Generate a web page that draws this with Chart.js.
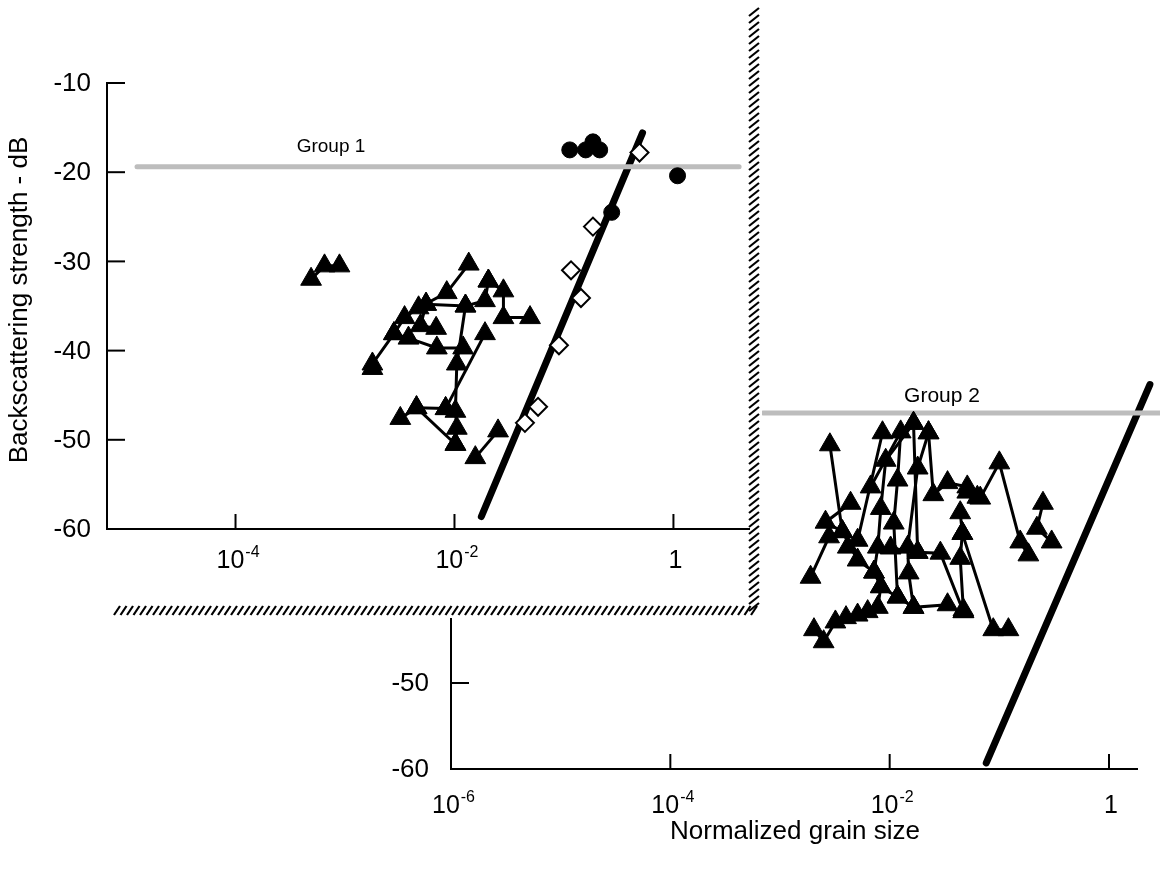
<!DOCTYPE html>
<html>
<head>
    <title>Backscattering strength vs normalized grain size</title>
    <script src="https://cdn.jsdelivr.net/npm/chart.js"></script>
    <style>
        body {
            margin: 0;
            background: #fff;
            font-family: "Liberation Sans", Arial, sans-serif;
        }
        #wrap {
            position: relative;
            width: 1160px;
            height: 876px;
        }
        canvas {
            position: absolute;
            left: 0;
            top: 0;
        }
        #chart1 {
            background: #fff;
        }
    </style>
</head>
<body>
<div id="wrap">
    <canvas id="chart2" width="1160" height="876"></canvas>
    <canvas id="chart1" width="762" height="618"></canvas>
</div>

<script>
    // ---- shared tick values ----
    const yTicks = [-10, -20, -30, -40, -50, -60];
    const xTicks1 = [1e-4, 1e-2, 1];
    const xTicks2 = [1e-6, 1e-4, 1e-2, 1];

    // ---- Group 1 (upper panel) ----
    const g1Level = [{x: 1.26e-5, y: -19.4}, {x: 3.98, y: -19.4}];
    const g1Fit = [{x: 0.0176, y: -58.6}, {x: 0.522, y: -15.6}];
    const g1Circles = [
        {x: 0.113, y: -17.5}, {x: 0.158, y: -17.5}, {x: 0.184, y: -16.6},
        {x: 0.212, y: -17.5}, {x: 1.09, y: -20.4}, {x: 0.273, y: -24.5}
    ];
    const g1Diamonds = [
        {x: 0.49, y: -17.8}, {x: 0.184, y: -26.1}, {x: 0.116, y: -31.0},
        {x: 0.143, y: -34.1}, {x: 0.090, y: -39.4}, {x: 0.058, y: -46.3},
        {x: 0.044, y: -48.1}
    ];
    const g1TriA = [{x: 4.9e-4, y: -32.0}, {x: 6.5e-4, y: -30.5}, {x: 8.9e-4, y: -30.5}];
    const g1TriB = [
        {x: 1.78e-3, y: -42.0}, {x: 1.78e-3, y: -41.5}, {x: 2.8e-3, y: -38.1},
        {x: 3.5e-3, y: -36.3}, {x: 4.7e-3, y: -35.2}, {x: 8.5e-3, y: -33.5},
        {x: 1.35e-2, y: -30.3}
    ];
    const g1TriC = [{x: 2.8e-3, y: -38.1}, {x: 3.8e-3, y: -38.6}, {x: 6.9e-3, y: -39.7}, {x: 1.2e-2, y: -39.7}];
    const g1TriD = [{x: 5.5e-3, y: -34.8}, {x: 4.9e-3, y: -37.2}, {x: 6.8e-3, y: -37.5}];
    const g1TriE = [{x: 5.5e-3, y: -34.8}, {x: 1.26e-2, y: -35.0}, {x: 1.9e-2, y: -34.4}, {x: 2.04e-2, y: -32.2}];
    const g1TriF = [
        {x: 1.26e-2, y: -35.0}, {x: 1.05e-2, y: -41.5}, {x: 1.02e-2, y: -46.8},
        {x: 1.05e-2, y: -48.7}, {x: 1.02e-2, y: -50.5}
    ];
    const g1TriG = [{x: 3.2e-3, y: -47.6}, {x: 4.5e-3, y: -46.4}, {x: 8.3e-3, y: -46.5}];
    const g1TriH = [{x: 4.5e-3, y: -46.4}, {x: 1.02e-2, y: -50.5}];
    const g1TriI = [{x: 1.9e-2, y: -38.1}, {x: 8.3e-3, y: -46.5}];
    const g1TriJ = [{x: 1.55e-2, y: -52.0}, {x: 2.5e-2, y: -49.0}];
    const g1TriK = [{x: 2.04e-2, y: -32.2}, {x: 2.8e-2, y: -33.3}, {x: 2.8e-2, y: -36.3}, {x: 4.9e-2, y: -36.3}];

    // ---- Group 2 (lower panel) ----
    const g2Level = [{x: 7.0e-4, y: -18.6}, {x: 2.9, y: -18.6}];
    const g2Fit = [{x: 0.076, y: -59.3}, {x: 2.36, y: -15.3}];
    const g2TriA = [{x: 1.9e-3, y: -37.7}, {x: 2.8e-3, y: -33.0}, {x: 3.7e-3, y: -32.4}, {x: 2.6e-3, y: -31.3}, {x: 4.4e-3, y: -29.1}];
    const g2TriB = [{x: 2.85e-3, y: -22.3}, {x: 3.7e-3, y: -32.4}, {x: 5.1e-3, y: -35.7}, {x: 7.2e-3, y: -37.1}];
    const g2TriC = [
        {x: 2.04e-3, y: -43.8}, {x: 2.5e-3, y: -45.2}, {x: 3.2e-3, y: -42.9},
        {x: 4.0e-3, y: -42.4}, {x: 5.1e-3, y: -42.1}, {x: 6.3e-3, y: -41.7},
        {x: 7.8e-3, y: -41.2}, {x: 8.3e-3, y: -38.8}, {x: 1.18e-2, y: -40.0},
        {x: 1.65e-2, y: -41.2}
    ];
    const g2TriD = [{x: 8.6e-3, y: -20.9}, {x: 5.1e-3, y: -33.4}, {x: 4.15e-3, y: -34.2}];
    const g2TriE = [{x: 6.7e-3, y: -27.2}, {x: 1.26e-2, y: -20.8}, {x: 1.18e-2, y: -26.4}, {x: 1.09e-2, y: -31.4}, {x: 1.18e-2, y: -40.0}];
    const g2TriF = [{x: 1.65e-2, y: -19.8}, {x: 9.2e-3, y: -24.1}, {x: 8.3e-3, y: -29.7}, {x: 7.8e-3, y: -34.2}, {x: 7.2e-3, y: -37.1}, {x: 8.3e-3, y: -38.8}];
    const g2TriG = [{x: 2.26e-2, y: -20.9}, {x: 1.8e-2, y: -25.0}, {x: 1.46e-2, y: -34.2}, {x: 1.49e-2, y: -37.2}, {x: 1.65e-2, y: -41.2}, {x: 3.37e-2, y: -40.9}];
    const g2TriH = [{x: 1.65e-2, y: -19.8}, {x: 1.8e-2, y: -34.8}, {x: 2.9e-2, y: -34.9}, {x: 4.7e-2, y: -41.7}];
    const g2TriI = [{x: 2.26e-2, y: -20.9}, {x: 2.5e-2, y: -28.1}, {x: 3.37e-2, y: -26.7}, {x: 5.1e-2, y: -27.2}, {x: 6.3e-2, y: -28.4}];
    const g2TriJ = [{x: 4.4e-2, y: -30.2}, {x: 4.6e-2, y: -32.6}, {x: 4.4e-2, y: -35.5}, {x: 4.7e-2, y: -41.5}, {x: 4.7e-2, y: -41.7}];
    const g2TriK = [{x: 4.6e-2, y: -32.6}, {x: 8.8e-2, y: -43.8}, {x: 0.121, y: -43.8}];
    const g2TriL = [{x: 5.1e-2, y: -27.8}, {x: 6.7e-2, y: -28.5}, {x: 0.1, y: -24.4}, {x: 0.155, y: -33.6}, {x: 0.184, y: -35.1}];
    const g2TriM = [{x: 0.25, y: -29.1}, {x: 0.22, y: -32.0}, {x: 0.30, y: -33.6}];
    const g2TriN = [{x: 1.02e-2, y: -34.3}, {x: 1.8e-2, y: -34.8}];

    // ---- drawing helpers ----
    const FONT = '"Liberation Sans", Arial, sans-serif';

    function triSet(data) {
        return {
            data: data,
            showLine: true,
            borderColor: '#000',
            borderWidth: 3,
            pointStyle: 'triangle',
            pointRadius: 12,
            pointBackgroundColor: '#000',
            pointBorderColor: '#000',
            pointBorderWidth: 1,
            clip: false,
            order: 2
        };
    }

    function lineSet(data, color, width) {
        return {
            data: data,
            showLine: true,
            borderColor: color,
            borderWidth: width,
            borderCapStyle: 'round',
            pointRadius: 0,
            clip: false,
            order: 3
        };
    }

    function expLabel(ctx, value, px, baseY) {
        if (value === 1) {
            ctx.font = '25px ' + FONT;
            ctx.textAlign = 'center';
            ctx.fillText('1', px, baseY);
            return;
        }
        const exp = String(Math.round(Math.log10(value)));
        ctx.font = '25px ' + FONT;
        const wBase = ctx.measureText('10').width;
        ctx.font = '16px ' + FONT;
        const wExp = ctx.measureText(exp).width;
        const start = px - (wBase + wExp) / 2;
        ctx.textAlign = 'left';
        ctx.font = '25px ' + FONT;
        ctx.fillText('10', start, baseY);
        ctx.font = '16px ' + FONT;
        ctx.fillText(exp, start + wBase + 1, baseY - 11);
    }

    const deco = {
        id: 'deco',
        afterDraw(chart, args, opts) {
            const {ctx, chartArea, scales: {x, y}} = chart;
            ctx.save();
            ctx.strokeStyle = '#000';
            ctx.fillStyle = '#000';
            ctx.lineWidth = 2;

            // inward tick marks
            opts.yTicks.forEach(v => {
                const py = y.getPixelForValue(v);
                ctx.beginPath();
                ctx.moveTo(chartArea.left, py);
                ctx.lineTo(chartArea.left + 18, py);
                ctx.stroke();
            });
            opts.xTicks.forEach(v => {
                const px = x.getPixelForValue(v);
                if (px <= chartArea.left + 2) return;
                ctx.beginPath();
                ctx.moveTo(px, chartArea.bottom);
                ctx.lineTo(px, chartArea.bottom - 15);
                ctx.stroke();
            });

            // tick labels
            ctx.font = '26px ' + FONT;
            ctx.textAlign = 'right';
            ctx.textBaseline = 'middle';
            opts.yLabels.forEach(v => {
                ctx.fillText(String(v), chartArea.left - opts.yGap, y.getPixelForValue(v) + 1);
            });
            ctx.textBaseline = 'alphabetic';
            opts.xTicks.forEach(v => expLabel(ctx, v, x.getPixelForValue(v) + 2, opts.xLabelY));

            // free texts
            (opts.texts || []).forEach(t => {
                ctx.save();
                ctx.font = t.size + 'px ' + FONT;
                ctx.textAlign = 'center';
                ctx.textBaseline = 'middle';
                ctx.translate(t.x, t.y);
                if (t.rot) ctx.rotate(t.rot);
                ctx.fillText(t.text, 0, 0);
                ctx.restore();
            });

            // hatched border of the upper panel
            if (opts.hatch) {
                ctx.lineWidth = 2.2;
                for (let yy = 12; yy < 612; yy += 7) {
                    ctx.beginPath();
                    ctx.moveTo(749, yy + 4);
                    ctx.lineTo(759, yy - 4);
                    ctx.stroke();
                }
                for (let xx = 114; xx < 756; xx += 6.5) {
                    ctx.beginPath();
                    ctx.moveTo(xx, 615);
                    ctx.lineTo(xx + 6, 606);
                    ctx.stroke();
                }
            }
            ctx.restore();
        }
    };

    function makeOptions(cfg) {
        return {
            responsive: false,
            animation: false,
            events: [],
            layout: {padding: cfg.padding},
            plugins: {
                legend: {display: false},
                tooltip: {enabled: false},
                deco: cfg.deco
            },
            scales: {
                x: {
                    type: 'logarithmic',
                    min: cfg.xMin,
                    max: cfg.xMax,
                    grid: {display: false},
                    ticks: {display: false},
                    border: {color: '#000', width: 2},
                    afterFit: s => { s.height = cfg.xHeight; }
                },
                y: {
                    type: 'linear',
                    min: -60,
                    max: -10,
                    grid: {display: false},
                    ticks: {display: false},
                    border: {color: '#000', width: 2},
                    afterFit: s => { s.width = cfg.yWidth; }
                }
            }
        };
    }

    // ---- lower panel (drawn underneath) ----
    new Chart(document.getElementById('chart2'), {
        type: 'scatter',
        data: {
            datasets: [
                lineSet(g2Level, '#bdbdbd', 5),
                lineSet(g2Fit, '#000', 7),
                triSet(g2TriA), triSet(g2TriB), triSet(g2TriC), triSet(g2TriD),
                triSet(g2TriE), triSet(g2TriF), triSet(g2TriG), triSet(g2TriH),
                triSet(g2TriI), triSet(g2TriJ), triSet(g2TriK), triSet(g2TriL),
                triSet(g2TriM), triSet(g2TriN)
            ]
        },
        options: makeOptions({
            padding: {top: 339, right: 23, left: 0, bottom: 0},
            xMin: 1e-6,
            xMax: 1.8,
            xHeight: 107,
            yWidth: 451,
            deco: {
                yTicks: yTicks,
                yLabels: [-50, -60],
                yGap: 22,
                xTicks: xTicks2,
                xLabelY: 813,
                texts: [
                    {text: 'Group 2', x: 942, y: 396, size: 21},
                    {text: 'Normalized grain size', x: 795, y: 832, size: 26}
                ]
            }
        }),
        plugins: [deco]
    });

    // ---- upper panel (white, on top) ----
    new Chart(document.getElementById('chart1'), {
        type: 'scatter',
        data: {
            datasets: [
                lineSet(g1Level, '#bdbdbd', 5),
                lineSet(g1Fit, '#000', 7),
                triSet(g1TriA), triSet(g1TriB), triSet(g1TriC), triSet(g1TriD),
                triSet(g1TriE), triSet(g1TriF), triSet(g1TriG), triSet(g1TriH),
                triSet(g1TriI), triSet(g1TriJ), triSet(g1TriK),
                {
                    data: g1Circles,
                    pointStyle: 'circle',
                    pointRadius: 8,
                    pointBackgroundColor: '#000',
                    pointBorderColor: '#000',
                    clip: false,
                    order: 1
                },
                {
                    data: g1Diamonds,
                    pointStyle: 'rectRot',
                    pointRadius: 9,
                    pointBackgroundColor: '#fff',
                    pointBorderColor: '#000',
                    pointBorderWidth: 2,
                    clip: false,
                    order: 1
                }
            ]
        },
        options: makeOptions({
            padding: {top: 83, right: 10, left: 0, bottom: 0},
            xMin: 6.7e-6,
            xMax: 4.9,
            xHeight: 89,
            yWidth: 107,
            deco: {
                yTicks: yTicks,
                yLabels: yTicks,
                yGap: 16,
                xTicks: xTicks1,
                xLabelY: 568,
                hatch: true,
                texts: [
                    {text: 'Group 1', x: 331, y: 147, size: 19},
                    {text: 'Backscattering strength - dB', x: 20, y: 300, size: 26, rot: -Math.PI / 2}
                ]
            }
        }),
        plugins: [deco]
    });
</script>
</body>
</html>
